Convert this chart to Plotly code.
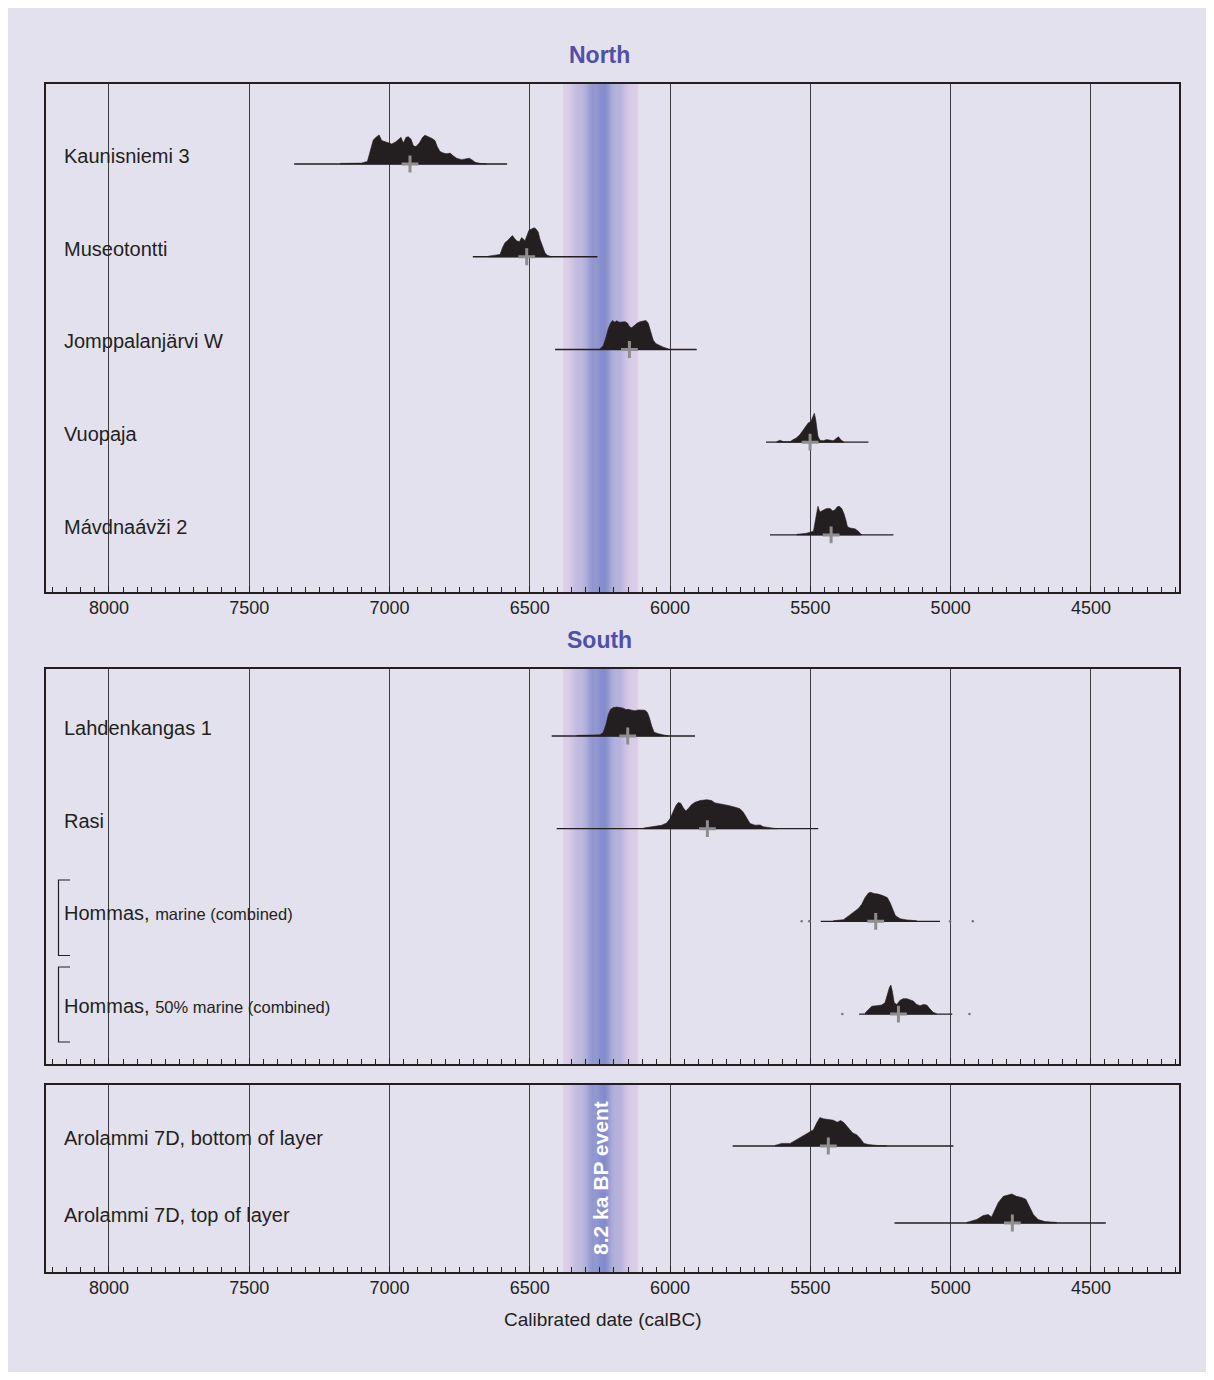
import plotly.graph_objects as go

W, H = 1214, 1380
X_RANGE = [8224.5, 4186]          # calBC, older dates on the left
BAND = [6381, 6114]               # 8.2 ka BP event window (calBC)
BAND_CENTER = 6248
PEAK_PX = 29                      # every distribution is drawn to the same peak height

# ---------------- North ----------------
kaunisniemi_span = [7340, 6581]
kaunisniemi_mean = 6927
kaunisniemi_years = [7176, 7099, 7079, 7070, 7058, 7046, 7037, 7028, 7016, 7004, 6992, 6977, 6969,
                     6959, 6951, 6941, 6933, 6923, 6915, 6906, 6894, 6882, 6874, 6862, 6850, 6838,
                     6830, 6820, 6808, 6796, 6784, 6773, 6761, 6743, 6725, 6716, 6707, 6695, 6677, 6654]
kaunisniemi_prob = [0.02, 0.03, 0.09, 0.375, 0.83, 0.94, 1.0, 0.81, 0.77, 0.74, 0.69, 0.77, 0.83,
                    0.92, 0.72, 0.92, 0.94, 0.85, 0.63, 0.60, 0.72, 0.92, 0.99, 0.94, 0.89, 0.81,
                    0.60, 0.43, 0.375, 0.35, 0.375, 0.28, 0.20, 0.15, 0.17, 0.20, 0.15, 0.06, 0.02, 0.01]

museotontti_span = [6703, 6259]
museotontti_mean = 6511
museotontti_years = [6648, 6606, 6597, 6588, 6580, 6570, 6562, 6555, 6547, 6537, 6529, 6523, 6517,
                     6511, 6503, 6493, 6485, 6478, 6470, 6464, 6454, 6446, 6438, 6422]
museotontti_prob = [0.02, 0.08, 0.32, 0.49, 0.55, 0.67, 0.73, 0.64, 0.55, 0.52, 0.66, 0.61, 0.55,
                    0.71, 0.91, 0.96, 1.0, 0.96, 0.85, 0.61, 0.32, 0.14, 0.05, 0.01]

jomppalanjarvi_span = [6410, 5905]
jomppalanjarvi_mean = 6145
jomppalanjarvi_years = [6250, 6238, 6228, 6220, 6212, 6205, 6197, 6190, 6181, 6172, 6161, 6152, 6145,
                        6137, 6125, 6117, 6107, 6095, 6086, 6078, 6069, 6060, 6050, 6038, 6024, 6006]
jomppalanjarvi_prob = [0.02, 0.14, 0.44, 0.73, 0.91, 1.0, 0.94, 0.99, 0.94, 0.94, 0.96, 0.91, 0.79,
                       0.75, 0.85, 0.91, 0.96, 0.99, 1.0, 0.91, 0.61, 0.32, 0.20, 0.14, 0.08, 0.02]

vuopaja_span = [5658, 5293]
vuopaja_mean = 5501
vuopaja_years = [5620, 5608, 5596, 5572, 5561, 5549, 5537, 5525, 5515, 5507, 5499, 5492, 5486,
                 5481, 5477, 5473, 5466, 5454, 5442, 5430, 5418, 5409, 5400, 5392, 5380]
vuopaja_prob = [0.02, 0.07, 0.02, 0.02, 0.09, 0.15, 0.27, 0.42, 0.56, 0.67, 0.70, 0.85, 1.0,
                0.79, 0.50, 0.21, 0.07, 0.05, 0.09, 0.07, 0.05, 0.12, 0.19, 0.09, 0.02]

mavdnaavzi_span = [5644, 5204]
mavdnaavzi_mean = 5426
mavdnaavzi_years = [5549, 5513, 5489, 5483, 5477, 5473, 5466, 5460, 5451, 5442, 5430, 5420, 5412,
                    5404, 5397, 5388, 5380, 5373, 5368, 5359, 5341, 5329, 5317]
mavdnaavzi_prob = [0.02, 0.06, 0.13, 0.50, 0.91, 0.99, 0.79, 0.83, 0.87, 0.91, 0.91, 0.83, 0.87,
                   0.97, 0.99, 0.91, 0.73, 0.50, 0.29, 0.24, 0.21, 0.13, 0.03]

# ---------------- South ----------------
lahdenkangas_span = [6422, 5911]
lahdenkangas_mean = 6151
lahdenkangas_years = [6333, 6250, 6238, 6228, 6220, 6212, 6202, 6190, 6178, 6167, 6157, 6149, 6137,
                      6125, 6113, 6101, 6089, 6081, 6074, 6066, 6057, 6042, 6024, 6006]
lahdenkangas_prob = [0.02, 0.04, 0.13, 0.42, 0.75, 0.92, 0.98, 1.0, 0.98, 0.96, 0.91, 0.92, 0.89,
                     0.87, 0.90, 0.90, 0.89, 0.81, 0.64, 0.36, 0.13, 0.08, 0.04, 0.02]

rasi_span = [6404, 5472]
rasi_mean = 5867
rasi_years = [6095, 6060, 6030, 6012, 6000, 5988, 5979, 5971, 5962, 5953, 5944, 5935, 5923, 5911,
              5893, 5869, 5852, 5840, 5816, 5792, 5768, 5751, 5739, 5727, 5715, 5697, 5679, 5668,
              5644, 5620]
rasi_prob = [0.02, 0.07, 0.12, 0.20, 0.35, 0.61, 0.80, 0.90, 0.88, 0.72, 0.61, 0.70, 0.83, 0.91,
             0.97, 1.0, 0.97, 0.89, 0.85, 0.80, 0.74, 0.69, 0.57, 0.35, 0.18, 0.12, 0.13, 0.07,
             0.03, 0.01]

hommas_marine_span = [5463, 5038]
hommas_marine_mean = 5267
hommas_marine_dots = [5531, 5504, 5002, 4921]
hommas_marine_years = [5418, 5382, 5365, 5347, 5329, 5317, 5305, 5293, 5285, 5273, 5258, 5240,
                       5226, 5216, 5206, 5197, 5180, 5156, 5121]
hommas_marine_prob = [0.02, 0.06, 0.18, 0.32, 0.44, 0.59, 0.82, 0.98, 1.0, 0.96, 0.94, 0.88,
                      0.82, 0.65, 0.41, 0.20, 0.09, 0.05, 0.02]

hommas_half_span = [5326, 4994]
hommas_half_mean = 5186
hommas_half_dots = [5386, 4933]
hommas_half_years = [5305, 5293, 5281, 5263, 5246, 5234, 5226, 5218, 5213, 5208, 5201, 5192, 5180,
                     5169, 5156, 5145, 5133, 5121, 5109, 5097, 5085, 5074, 5062, 5050]
hommas_half_prob = [0.04, 0.15, 0.27, 0.29, 0.31, 0.39, 0.68, 0.92, 1.0, 0.80, 0.39, 0.33, 0.48,
                    0.53, 0.53, 0.48, 0.45, 0.33, 0.29, 0.33, 0.31, 0.18, 0.06, 0.01]

# ---------------- Arolammi 7D ----------------
arolammi_bottom_span = [5777, 4990]
arolammi_bottom_mean = 5436
arolammi_bottom_years = [5626, 5602, 5572, 5555, 5531, 5507, 5489, 5477, 5466, 5454, 5436, 5418,
                         5404, 5392, 5380, 5365, 5349, 5335, 5323, 5309, 5293, 5263, 5228]
arolammi_bottom_prob = [0.02, 0.09, 0.09, 0.19, 0.31, 0.47, 0.56, 0.80, 0.98, 0.94, 0.92, 0.89,
                        0.82, 0.88, 0.80, 0.62, 0.45, 0.39, 0.27, 0.09, 0.05, 0.02, 0.01]

arolammi_top_span = [5200, 4447]
arolammi_top_mean = 4780
arolammi_top_years = [4943, 4907, 4884, 4866, 4854, 4842, 4830, 4812, 4795, 4782, 4765, 4747,
                      4732, 4720, 4705, 4688, 4664, 4622]
arolammi_top_prob = [0.02, 0.12, 0.26, 0.29, 0.21, 0.47, 0.71, 0.92, 0.96, 1.0, 0.92, 0.88,
                     0.82, 0.59, 0.29, 0.12, 0.05, 0.02]

SMALL = "<span style='font-size:16.5px'>"
rows = [
    # panel, row, label, span, mean, years, prob, dots
    (1, 0, "Kaunisniemi 3", kaunisniemi_span, kaunisniemi_mean, kaunisniemi_years, kaunisniemi_prob, []),
    (1, 1, "Museotontti", museotontti_span, museotontti_mean, museotontti_years, museotontti_prob, []),
    (1, 2, "Jomppalanjärvi W", jomppalanjarvi_span, jomppalanjarvi_mean, jomppalanjarvi_years, jomppalanjarvi_prob, []),
    (1, 3, "Vuopaja", vuopaja_span, vuopaja_mean, vuopaja_years, vuopaja_prob, []),
    (1, 4, "Mávdnaávži 2", mavdnaavzi_span, mavdnaavzi_mean, mavdnaavzi_years, mavdnaavzi_prob, []),
    (2, 0, "Lahdenkangas 1", lahdenkangas_span, lahdenkangas_mean, lahdenkangas_years, lahdenkangas_prob, []),
    (2, 1, "Rasi", rasi_span, rasi_mean, rasi_years, rasi_prob, []),
    (2, 2, "Hommas, " + SMALL + "marine (combined)</span>", hommas_marine_span, hommas_marine_mean,
     hommas_marine_years, hommas_marine_prob, hommas_marine_dots),
    (2, 3, "Hommas, " + SMALL + "50% marine (combined)</span>", hommas_half_span, hommas_half_mean,
     hommas_half_years, hommas_half_prob, hommas_half_dots),
    (3, 0, "Arolammi 7D, bottom of layer", arolammi_bottom_span, arolammi_bottom_mean,
     arolammi_bottom_years, arolammi_bottom_prob, []),
    (3, 1, "Arolammi 7D, top of layer", arolammi_top_span, arolammi_top_mean,
     arolammi_top_years, arolammi_top_prob, []),
]

# panel frames in pixels (top, bottom) and y ranges (row units, reversed)
panels = {
    1: dict(top=84, bottom=592, yrange=[4.615, -0.8625]),
    2: dict(top=669, bottom=1064, yrange=[3.539, -0.723]),
    3: dict(top=1085, bottom=1272, yrange=[1.636, -0.792]),
}

INK = "#231f20"
LAV = "#e4e1ef"


def px_x(px):
    return px / W


def px_y(py):
    return 1 - py / H


fig = go.Figure()

for panel, row, label, span, mean, years, prob, dots in rows:
    p = panels[panel]
    ppu = (p["bottom"] - p["top"]) / (p["yrange"][0] - p["yrange"][1])
    hgt = PEAK_PX / ppu
    ax = "" if panel == 1 else str(panel)
    xa, ya = "x" + ax, "y" + ax
    # baseline of the calibrated range
    fig.add_trace(go.Scatter(x=span, y=[row, row], mode="lines", line=dict(color=INK, width=1.3),
                             xaxis=xa, yaxis=ya, showlegend=False, hoverinfo="skip"))
    # probability distribution
    xs = list(years) + [years[-1], years[0]]
    ys = [row - hgt * v for v in prob] + [row, row]
    fig.add_trace(go.Scatter(x=xs, y=ys, mode="lines", fill="toself", fillcolor=INK,
                             line=dict(color=INK, width=0.6), xaxis=xa, yaxis=ya,
                             showlegend=False, hoverinfo="skip"))
    if dots:
        fig.add_trace(go.Scatter(x=dots, y=[row] * len(dots), mode="markers",
                                 marker=dict(size=2.5, color="#777"), xaxis=xa, yaxis=ya,
                                 showlegend=False, hoverinfo="skip"))
    # mean marker
    fig.add_trace(go.Scatter(x=[mean], y=[row], mode="markers",
                             marker=dict(symbol="cross-thin", size=12, line=dict(width=3, color="#8e8e8e")),
                             xaxis=xa, yaxis=ya, showlegend=False, hoverinfo="skip"))
    fig.add_annotation(x=px_x(62), xref="paper", y=row, yref=ya, yshift=8, xanchor="left",
                       yanchor="middle", text=label, showarrow=False,
                       font=dict(size=20, color=INK))

shapes = [dict(type="rect", xref="paper", yref="paper", x0=px_x(8), x1=px_x(1206),
               y0=px_y(1372), y1=px_y(8), fillcolor=LAV, line=dict(width=0), layer="below")]

# 8.2 ka BP band: lavender edges shading to blue in the middle
edge = (221, 207, 231)
core = (116, 127, 199)
n = 70
half = (BAND[0] - BAND[1]) / 2
step = (BAND[0] - BAND[1]) / n
for panel in panels:
    ax = "" if panel == 1 else str(panel)
    for i in range(n):
        a = BAND[0] - i * step
        b = a - step
        t = abs((a + b) / 2 - BAND_CENTER) / half
        f = max(0.0, 1 - t) ** 1.4
        c = tuple(int(round(edge[k] + (core[k] - edge[k]) * f)) for k in range(3))
        shapes.append(dict(type="rect", xref="x" + ax, yref="y" + ax + " domain",
                           x0=a + 0.3, x1=b - 0.3, y0=0, y1=1,
                           fillcolor="rgb(%d,%d,%d)" % c, line=dict(width=0), layer="below"))

# brackets grouping the two Hommas models
for top, bot in [(880, 955.5), (967, 1042)]:
    shapes.append(dict(type="path", xref="paper", yref="paper",
                       path="M %f %f L %f %f L %f %f L %f %f" % (
                           px_x(70), px_y(top), px_x(58.5), px_y(top),
                           px_x(58.5), px_y(bot), px_x(70), px_y(bot)),
                       line=dict(color=INK, width=1.2)))

xaxis_common = dict(range=X_RANGE, showgrid=True, gridcolor="#3c3c3c", gridwidth=1,
                    tickmode="linear", tick0=0, dtick=500, ticks="inside", ticklen=6,
                    tickcolor=INK, tickwidth=1.2,
                    minor=dict(dtick=50, tick0=0, ticks="inside", ticklen=5, tickcolor=INK,
                               tickwidth=1, showgrid=False),
                    showline=True, linecolor=INK, linewidth=2, mirror=True,
                    zeroline=False, tickfont=dict(size=18, color=INK), ticklabelstandoff=-2)
yaxis_common = dict(showgrid=False, zeroline=False, showticklabels=False, ticks="",
                    showline=True, linecolor=INK, linewidth=1.5, mirror=True)

layout = dict(
    width=W, height=H, margin=dict(l=0, r=0, t=0, b=0),
    paper_bgcolor="white", plot_bgcolor="rgba(0,0,0,0)",
    font=dict(family="Liberation Sans, Arial, sans-serif", color=INK),
    shapes=shapes, showlegend=False,
)
for panel, p in panels.items():
    ax = "" if panel == 1 else str(panel)
    xd = dict(xaxis_common, domain=[px_x(46), px_x(1179)], anchor="y" + ax,
              showticklabels=(panel != 2))
    if panel != 1:
        xd["matches"] = "x"
    layout["xaxis" + ax] = xd
    layout["yaxis" + ax] = dict(yaxis_common, domain=[px_y(p["bottom"]), px_y(p["top"])],
                                range=p["yrange"], anchor="x" + ax)

fig.update_layout(**layout)

fig.add_annotation(x=px_x(599), y=px_y(55), xref="paper", yref="paper", text="<b>North</b>",
                   xanchor="center", yanchor="middle",
                   showarrow=False, font=dict(size=23, color="#4f50a6"))
fig.add_annotation(x=px_x(599), y=px_y(640), xref="paper", yref="paper", text="<b>South</b>",
                   xanchor="center", yanchor="middle",
                   showarrow=False, font=dict(size=23, color="#4f50a6"))
fig.add_annotation(x=px_x(602), y=px_y(1319), xref="paper", yref="paper",
                   xanchor="center", yanchor="middle",
                   text="Calibrated date (calBC)", showarrow=False, font=dict(size=19, color=INK))
fig.add_annotation(x=BAND_CENTER, xref="x3", y=0.5, yref="y3 domain", text="<b>8.2 ka BP event</b>",
                   xanchor="center", yanchor="middle",
                   textangle=-90, showarrow=False, font=dict(size=21, color="white"))

fig.write_html("out.html")
